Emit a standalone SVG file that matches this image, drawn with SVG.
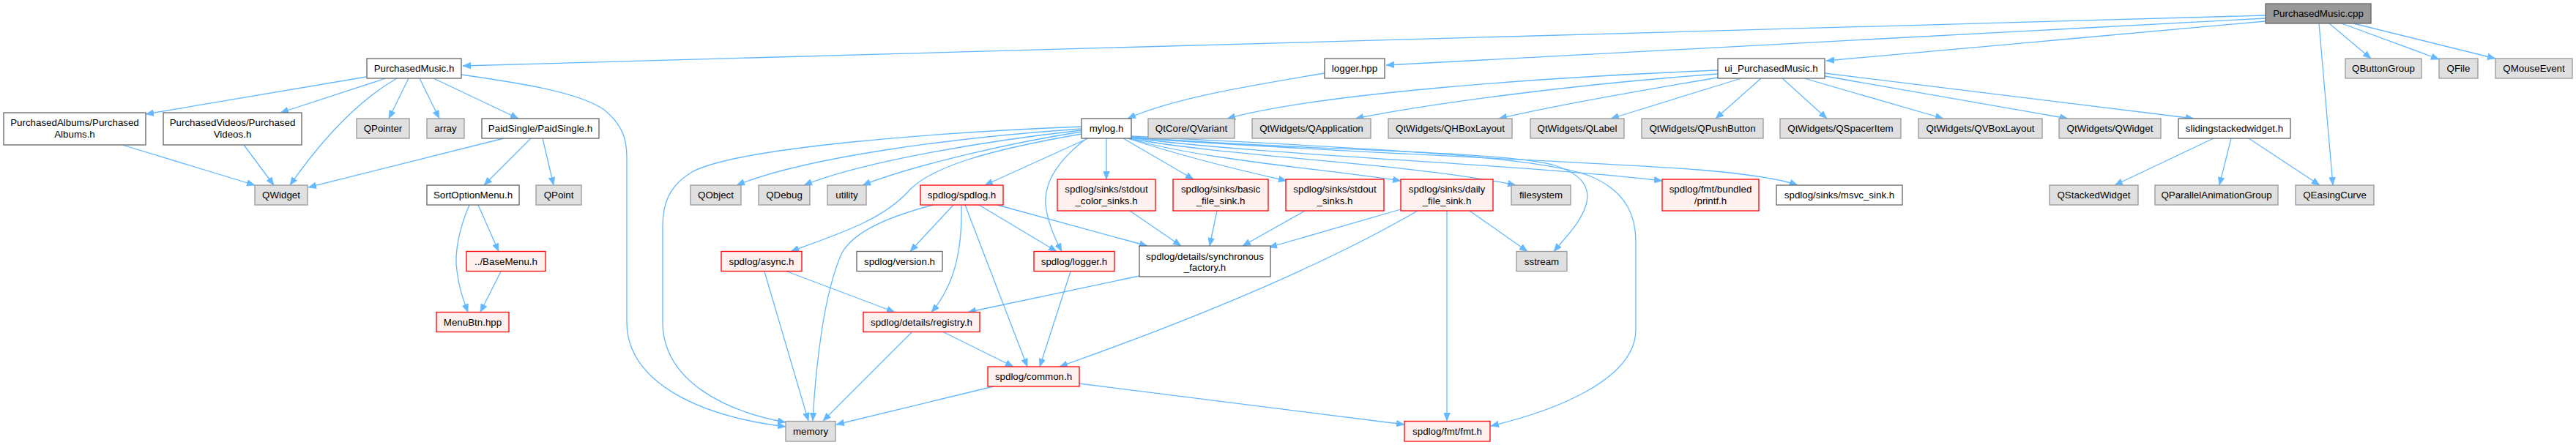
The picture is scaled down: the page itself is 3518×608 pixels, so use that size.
<svg xmlns="http://www.w3.org/2000/svg" width="3518" height="608" viewBox="0 0 3518 608">
<style>
.e path{fill:none;stroke:#63B8FF;stroke-width:1.3;marker-end:url(#a)}
.g rect{fill:#E0E0E0;stroke:#999999;stroke-width:1.3}
.w rect{fill:#FFFFFF;stroke:#666666;stroke-width:1.3}
.r rect{fill:#FFF0F0;stroke:#FF0000;stroke-width:1.3}
.root rect{fill:#999999;stroke:#666666;stroke-width:1.3}
text{font-family:"Liberation Sans",Arial,sans-serif;font-size:13.33px;text-anchor:middle;fill:#000000}
</style>
<defs>
<marker id="a" viewBox="0 0 11 9" refX="11" refY="4.5" markerWidth="11" markerHeight="9" markerUnits="userSpaceOnUse" orient="auto">
<path d="M0,0 L11,4.5 L0,9 z" fill="#63B8FF" stroke="#63B8FF" stroke-width="0.5"/>
</marker>
</defs>
<rect width="3518" height="608" fill="#FFFFFF"/>
<g id="connectors" class="e">
<path d="M3094,21 L632,90"/>
<path d="M3094,25 L1893,89"/>
<path d="M3094,29 L2494,83"/>
<path d="M3181,32 L3238,80"/>
<path d="M3198,32 L3331,81"/>
<path d="M3214,32 L3408,80"/>
<path d="M3167,32 L3186,253"/>
<path d="M500,105 L199,156"/>
<path d="M527,107 L383,154"/>
<path d="M542,107 C488,138 440,190 396,253"/>
<path d="M558,107 L531,162"/>
<path d="M573,107 L600,162"/>
<path d="M592,107 L708,162"/>
<path d="M630,102 C700,112 790,125 825,150 C850,170 856,190 856,215 L856,440 C856,520 950,568 1073,583"/>
<path d="M167,198 L348,253"/>
<path d="M333,198 L374,253"/>
<path d="M688,189 L421,256"/>
<path d="M725,189 L661,253"/>
<path d="M741,189 L756,253"/>
<path d="M653,280 L681,343.5"/>
<path d="M641,280 C628,310 620,345 624,370 C627,395 633,410 639,426.5"/>
<path d="M684,371 L656,426.5"/>
<path d="M1809,100 C1700,118 1600,135 1540,162"/>
<path d="M2346,96 C2100,106 1800,128 1676,162"/>
<path d="M2346,101 C2150,115 1950,142 1851,162"/>
<path d="M2346,106 C2250,122 2110,147 2047,162"/>
<path d="M2378,107 L2200,162"/>
<path d="M2405,107 L2343,162"/>
<path d="M2434,107 L2495,162"/>
<path d="M2464,107 L2654,162"/>
<path d="M2492,104 L2824,162"/>
<path d="M2492,100 L2996,162"/>
<path d="M3023,189 L2888,253"/>
<path d="M3047,189 L3031,253"/>
<path d="M3071,189 L3168,253"/>
<path d="M1477,173 C1300,180 1010,200 945,235 C912,255 905,280 905,310 L905,440 C905,520 990,562 1073,577"/>
<path d="M1477,176 C1300,188 1100,215 1006,253"/>
<path d="M1477,178 C1350,192 1180,220 1098,253"/>
<path d="M1477,180 C1380,195 1250,225 1178,253"/>
<path d="M1486,189 L1345,253"/>
<path d="M1477,183 C1350,205 1270,228 1240,262 C1205,300 1150,318 1080,343.5"/>
<path d="M1484,189 C1450,215 1425,245 1428,280 C1431,305 1440,325 1450,343.5"/>
<path d="M1511,189 L1511,245"/>
<path d="M1534,189 L1630,245"/>
<path d="M1540,189 C1610,212 1690,232 1757,247"/>
<path d="M1541,189 C1640,218 1800,230 1913,247"/>
<path d="M1542,189 C1680,215 1920,222 2070,253"/>
<path d="M1543,188 C1720,212 2050,222 2270,247"/>
<path d="M1544,188 C1760,205 2200,222 2320,232 C2390,238 2430,244 2455,253"/>
<path d="M1545,187 C1750,205 2040,205 2120,225 C2165,238 2172,260 2166,280 C2158,305 2140,322 2122,343.5"/>
<path d="M1545,186 C1800,200 2090,210 2170,240 C2225,262 2234,300 2234,330 L2234,450 C2234,520 2120,562 2036,582"/>
<path d="M1274,280 C1200,300 1165,320 1150,345 C1125,400 1114,500 1110,575"/>
<path d="M1302,280 L1243,343.5"/>
<path d="M1313,280 C1314,330 1308,385 1272,426.5"/>
<path d="M1318,280 L1403,501"/>
<path d="M1337,280 L1443,343.5"/>
<path d="M1362,280 L1567,336"/>
<path d="M1044,371 L1104,575"/>
<path d="M1075,371 L1222,426.5"/>
<path d="M1246,453 L1124,575"/>
<path d="M1287,453 L1384,501"/>
<path d="M1462,371 L1420,501"/>
<path d="M1556,377 L1322,426.5"/>
<path d="M1357,528 L1142,580"/>
<path d="M1474,524 L1918,580"/>
<path d="M1543,288 L1613,336"/>
<path d="M1662,288 L1652,336"/>
<path d="M1782,288 L1697,336"/>
<path d="M1913,286 L1733,338"/>
<path d="M1936,288 Q1760,390 1447,501"/>
<path d="M1976,288 L1976,575"/>
<path d="M2007,288 L2086,343.5"/>
</g>
<g id="n_cpp" class="root"><rect x="3094" y="5" width="144" height="27"/><text x="3166" y="23.3">PurchasedMusic.cpp</text></g>
<g id="n_pmh" class="w"><rect x="501" y="80" width="129" height="27"/><text x="565.5" y="98.3">PurchasedMusic.h</text></g>
<g id="n_loggerhpp" class="w"><rect x="1809" y="80" width="82" height="27"/><text x="1850" y="98.3">logger.hpp</text></g>
<g id="n_ui" class="w"><rect x="2346" y="80" width="146" height="27"/><text x="2419" y="98.3">ui_PurchasedMusic.h</text></g>
<g id="n_qbuttongroup" class="g"><rect x="3203" y="80" width="104" height="27"/><text x="3255" y="98.3">QButtonGroup</text></g>
<g id="n_qfile" class="g"><rect x="3331" y="80" width="53" height="27"/><text x="3357.5" y="98.3">QFile</text></g>
<g id="n_qmouseevent" class="g"><rect x="3408" y="80" width="105" height="27"/><text x="3460.5" y="98.3">QMouseEvent</text></g>
<g id="n_albums" class="w"><rect x="5" y="154" width="194" height="44"/><text x="102" y="172.3">PurchasedAlbums/Purchased</text><text x="102" y="188.3">Albums.h</text></g>
<g id="n_videos" class="w"><rect x="223" y="154" width="189" height="44"/><text x="317.5" y="172.3">PurchasedVideos/Purchased</text><text x="317.5" y="188.3">Videos.h</text></g>
<g id="n_qpointer" class="g"><rect x="487" y="162" width="72" height="27"/><text x="523" y="180.3">QPointer</text></g>
<g id="n_array" class="g"><rect x="583" y="162" width="51" height="27"/><text x="608.5" y="180.3">array</text></g>
<g id="n_paidsingle" class="w"><rect x="658" y="162" width="160" height="27"/><text x="738" y="180.3">PaidSingle/PaidSingle.h</text></g>
<g id="n_mylog" class="w"><rect x="1477" y="162" width="68" height="27"/><text x="1511" y="180.3">mylog.h</text></g>
<g id="n_qvariant" class="g"><rect x="1568" y="162" width="118" height="27"/><text x="1627" y="180.3">QtCore/QVariant</text></g>
<g id="n_qapplication" class="g"><rect x="1710" y="162" width="162" height="27"/><text x="1791" y="180.3">QtWidgets/QApplication</text></g>
<g id="n_qhboxlayout" class="g"><rect x="1896" y="162" width="169" height="27"/><text x="1980.5" y="180.3">QtWidgets/QHBoxLayout</text></g>
<g id="n_qlabel" class="g"><rect x="2090" y="162" width="128" height="27"/><text x="2154" y="180.3">QtWidgets/QLabel</text></g>
<g id="n_qpushbutton" class="g"><rect x="2242" y="162" width="166" height="27"/><text x="2325" y="180.3">QtWidgets/QPushButton</text></g>
<g id="n_qspaceritem" class="g"><rect x="2431" y="162" width="165" height="27"/><text x="2513.5" y="180.3">QtWidgets/QSpacerItem</text></g>
<g id="n_qvboxlayout" class="g"><rect x="2620" y="162" width="169" height="27"/><text x="2704.5" y="180.3">QtWidgets/QVBoxLayout</text></g>
<g id="n_qtwqwidget" class="g"><rect x="2812" y="162" width="139" height="27"/><text x="2881.5" y="180.3">QtWidgets/QWidget</text></g>
<g id="n_sliding" class="w"><rect x="2975" y="162" width="153" height="27"/><text x="3051.5" y="180.3">slidingstackedwidget.h</text></g>
<g id="n_qwidget" class="g"><rect x="348" y="253" width="72" height="27"/><text x="384" y="271.3">QWidget</text></g>
<g id="n_sortoption" class="w"><rect x="583" y="253" width="126" height="27"/><text x="646" y="271.3">SortOptionMenu.h</text></g>
<g id="n_qpoint" class="g"><rect x="732" y="253" width="62" height="27"/><text x="763" y="271.3">QPoint</text></g>
<g id="n_qobject" class="g"><rect x="943" y="253" width="69" height="27"/><text x="977.5" y="271.3">QObject</text></g>
<g id="n_qdebug" class="g"><rect x="1036" y="253" width="70" height="27"/><text x="1071" y="271.3">QDebug</text></g>
<g id="n_utility" class="g"><rect x="1130" y="253" width="53" height="27"/><text x="1156.5" y="271.3">utility</text></g>
<g id="n_spdlogh" class="r"><rect x="1257" y="253" width="113" height="27"/><text x="1313.5" y="271.3">spdlog/spdlog.h</text></g>
<g id="n_colorsinks" class="r"><rect x="1444" y="245" width="134" height="43"/><text x="1511" y="263">spdlog/sinks/stdout</text><text x="1511" y="279.3">_color_sinks.h</text></g>
<g id="n_basicsink" class="r"><rect x="1602" y="245" width="130" height="43"/><text x="1667" y="263">spdlog/sinks/basic</text><text x="1667" y="279.3">_file_sink.h</text></g>
<g id="n_stdoutsinks" class="r"><rect x="1756" y="245" width="134" height="43"/><text x="1823" y="263">spdlog/sinks/stdout</text><text x="1823" y="279.3">_sinks.h</text></g>
<g id="n_dailysink" class="r"><rect x="1913" y="245" width="126" height="43"/><text x="1976" y="263">spdlog/sinks/daily</text><text x="1976" y="279.3">_file_sink.h</text></g>
<g id="n_filesystem" class="g"><rect x="2064" y="253" width="81" height="27"/><text x="2104.5" y="271.3">filesystem</text></g>
<g id="n_printf" class="r"><rect x="2270" y="245" width="132" height="43"/><text x="2336" y="263">spdlog/fmt/bundled</text><text x="2336" y="279.3">/printf.h</text></g>
<g id="n_msvc" class="w"><rect x="2426" y="253" width="172" height="27"/><text x="2512" y="271.3">spdlog/sinks/msvc_sink.h</text></g>
<g id="n_qstacked" class="g"><rect x="2799" y="253" width="121" height="27"/><text x="2859.5" y="271.3">QStackedWidget</text></g>
<g id="n_qparallel" class="g"><rect x="2943" y="253" width="168" height="27"/><text x="3027" y="271.3">QParallelAnimationGroup</text></g>
<g id="n_qeasing" class="g"><rect x="3135" y="253" width="107" height="27"/><text x="3188.5" y="271.3">QEasingCurve</text></g>
<g id="n_basemenu" class="r"><rect x="637" y="343.5" width="108" height="27"/><text x="691" y="361.8">../BaseMenu.h</text></g>
<g id="n_async" class="r"><rect x="985" y="343.5" width="110" height="27"/><text x="1040" y="361.8">spdlog/async.h</text></g>
<g id="n_version" class="w"><rect x="1170" y="343.5" width="117" height="27"/><text x="1228.5" y="361.8">spdlog/version.h</text></g>
<g id="n_loggerh" class="r"><rect x="1412" y="343.5" width="110" height="27"/><text x="1467" y="361.8">spdlog/logger.h</text></g>
<g id="n_synch" class="w"><rect x="1556" y="336" width="179" height="42"/><text x="1645.5" y="354.5">spdlog/details/synchronous</text><text x="1645.5" y="370.4">_factory.h</text></g>
<g id="n_sstream" class="g"><rect x="2071" y="343.5" width="69" height="27"/><text x="2105.5" y="361.8">sstream</text></g>
<g id="n_menubtn" class="r"><rect x="596" y="426.5" width="99" height="27"/><text x="645.5" y="444.8">MenuBtn.hpp</text></g>
<g id="n_registry" class="r"><rect x="1179" y="426.5" width="159" height="27"/><text x="1258.5" y="444.8">spdlog/details/registry.h</text></g>
<g id="n_common" class="r"><rect x="1349" y="501" width="125" height="27"/><text x="1411.5" y="519.3">spdlog/common.h</text></g>
<g id="n_memory" class="g"><rect x="1073" y="575.5" width="68" height="27.5"/><text x="1107" y="593.8">memory</text></g>
<g id="n_fmt" class="r"><rect x="1918" y="575.5" width="117" height="27.5"/><text x="1976.5" y="593.8">spdlog/fmt/fmt.h</text></g>
</svg>
